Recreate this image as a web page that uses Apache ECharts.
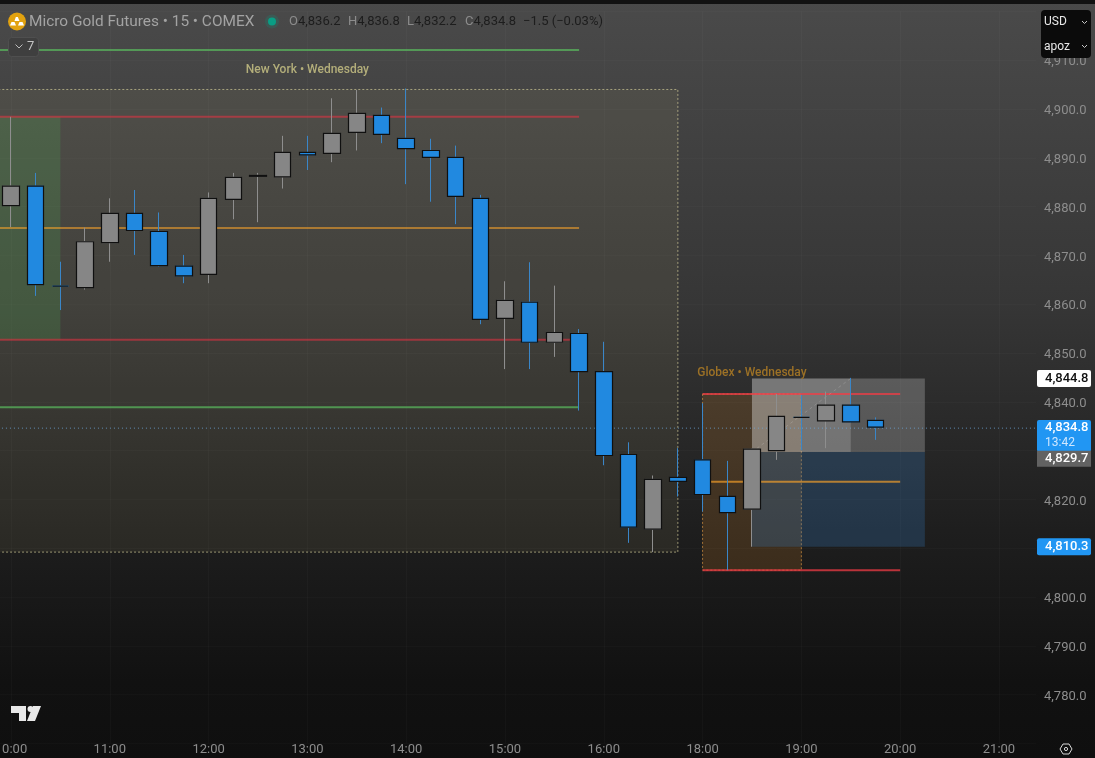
<!DOCTYPE html>
<html>
<head>
<meta charset="utf-8">
<title>Micro Gold Futures</title>
<script src="https://cdn.jsdelivr.net/npm/echarts@6/dist/echarts.min.js"></script>
<style>
  html, body { margin: 0; padding: 0; background: #111; }
  #chart { width: 1095px; height: 758px; }
</style>
</head>
<body>
<div id="chart"></div>
<script>
// bar times, 09:45 is only there so the session boxes run off the left edge
const times = ['09:45','10:00','10:15','10:30','10:45','11:00','11:15','11:30','11:45','12:00','12:15','12:30','12:45',
  '13:00','13:15','13:30','13:45','14:00','14:15','14:30','14:45','15:00','15:15','15:30','15:45',
  '16:00','16:15','16:30','16:45','18:00','18:15','18:30','18:45','19:00','19:15','19:30','19:45',
  '20:00','20:15','20:30','20:45','21:00','21:15'];

const opens  = [null,4880.2,4884.2,4863.7,4863.4,4872.6,4878.6,4874.9,4867.8,4866.1,4881.5,4886.2,4886.1,4891.1,4890.9,4895.2,4898.7,4894.0,4891.5,4890.1,4881.7,4857.1,4860.4,4852.2,4854.0,4846.2,4829.2,4813.9,4824.5,4828.1,4820.6,4818.0,4830.0,4836.8,4836.1,4839.3,4836.2];
const closes = [null,4884.2,4864.0,4863.7,4872.8,4878.6,4875.1,4867.9,4865.8,4881.7,4886.0,4886.4,4891.1,4890.6,4895.0,4899.1,4894.8,4891.9,4890.1,4882.1,4856.9,4860.8,4852.2,4854.2,4846.2,4829.0,4814.3,4824.1,4823.7,4821.0,4817.3,4830.3,4837.0,4836.8,4839.3,4835.9,4834.8];
const lows   = [null,4875.8,4861.7,4858.8,4863.0,4868.7,4870.1,4867.7,4864.3,4864.3,4877.4,4876.8,4883.7,4887.5,4889.1,4891.5,4893.0,4884.6,4881.0,4876.4,4855.9,4846.7,4846.7,4849.2,4838.2,4827.0,4811.1,4809.2,4820.6,4817.5,4805.5,4810.3,4828.1,4830.1,4830.5,4835.7,4832.2];
const highs  = [null,4898.4,4886.9,4868.7,4875.7,4881.7,4883.4,4878.8,4870.1,4882.9,4886.9,4886.9,4894.5,4894.5,4902.2,4903.9,4900.3,4904.2,4893.9,4892.5,4882.4,4864.7,4868.6,4863.8,4854.9,4852.3,4831.7,4824.9,4830.5,4839.7,4827.9,4830.4,4841.6,4841.4,4842.1,4844.9,4836.8];

const priceTicks = [4780,4790,4800,4810,4820,4830,4840,4850,4860,4870,4880,4890,4900,4910];

// session boxes: from, to, top, bottom
const nyBox = ['09:45','16:45',4904,4809.2];
const nyOpenBox = ['09:45','10:30',4898.4,4852.7];
const globexBox = ['18:00','19:00',4841.6,4805.5];
// position tool
const targetBox = ['18:30','20:15',4844.8,4829.7];
const targetFilled = ['18:30','19:30',4844.8,4829.7];
const stopBox = ['18:30','20:15',4829.7,4810.3];
const positionPath = ['18:30','19:30',4829.7,4844.8];

// levels: from, to, price
const nyGreen = [['09:45','15:45',4912.1],['09:45','15:45',4838.9]];
const nyRed = [['09:45','15:45',4898.4],['09:45','15:45',4852.7]];
const nyOrange = [['09:45','15:45',4875.6]];
const globexRed = [['18:00','20:00',4841.6],['18:00','20:00',4805.5]];
const globexOrange = [['18:00','20:00',4823.6]];
const lastPrice = 4834.6;

const priceTags = [4844.8,4834.8,4829.7,4810.3];
const tagLabels = ['4,844.8','4,834.8','4,829.7','4,810.3'];
const countdown = '13:42';

const sessionLabels = [['New York • Wednesday','13:00',4908.0],['Globex • Wednesday','18:30',4845.8]];
const legendValues = [['O','4,836.2'],['H','4,836.8'],['L','4,832.2'],['C','4,834.8']];

const FONT = 'Roboto, sans-serif';
const GRAY = '#868686';
const BLUE = '#2189e0';

var chart = echarts.init(document.getElementById('chart'));

function boxSeries(row, fill, border, z) {
  return {
    type: 'custom', z: z, clip: true, silent: true,
    data: [row], encode: {x: [0, 1], y: [2, 3]},
    renderItem: function (params, api) {
      var a = api.coord([row[0], row[2]]);
      var b = api.coord([row[1], row[3]]);
      var style = {fill: fill};
      if (border) {
        style.stroke = border;
        style.lineWidth = 1;
        style.lineDash = [2, 2];
      }
      return {type: 'rect', shape: {x: a[0], y: a[1], width: b[0] - a[0], height: b[1] - a[1]}, style: style};
    }
  };
}

function levelSeries(rows, color, z) {
  return {
    type: 'custom', z: z, clip: true, silent: true,
    data: rows, encode: {x: [0, 1], y: 2},
    renderItem: function (params, api) {
      var r = rows[params.dataIndex];
      var a = api.coord([r[0], r[2]]);
      var b = api.coord([r[1], r[2]]);
      return {type: 'line', shape: {x1: a[0], y1: a[1], x2: b[0], y2: b[1]}, style: {stroke: color, lineWidth: 2}};
    }
  };
}

var series = [
  boxSeries(nyBox, 'rgba(190,180,125,0.09)', 'rgba(205,200,150,0.7)', 1),
  boxSeries(nyOpenBox, 'rgba(76,175,80,0.22)', null, 1),
  boxSeries(globexBox, 'rgba(255,152,40,0.15)', 'rgba(255,170,70,0.55)', 1),
  boxSeries(targetBox, 'rgba(215,215,215,0.27)', null, 1),
  boxSeries(targetFilled, 'rgba(235,235,235,0.2)', null, 1),
  boxSeries(stopBox, 'rgba(50,120,185,0.27)', null, 1),
  levelSeries(nyGreen, 'rgba(88,180,92,0.75)', 2),
  levelSeries(nyRed, 'rgba(235,50,65,0.55)', 2),
  levelSeries(nyOrange, 'rgba(255,165,40,0.55)', 2),
  levelSeries(globexRed, 'rgba(242,60,70,0.75)', 2),
  levelSeries(globexOrange, 'rgba(255,165,40,0.65)', 2),
  {
    // dashed path of the position tool
    type: 'custom', z: 2, clip: true, silent: true,
    data: [positionPath], encode: {x: [0, 1], y: [2, 3]},
    renderItem: function (params, api) {
      var a = api.coord([positionPath[0], positionPath[2]]);
      var b = api.coord([positionPath[1], positionPath[3]]);
      return {type: 'line', shape: {x1: a[0], y1: a[1], x2: b[0], y2: b[1]},
        style: {stroke: 'rgba(255,255,255,0.16)', lineWidth: 1, lineDash: [3, 3]}};
    }
  },
  {
    // last price line, full width of the pane
    type: 'custom', z: 2, clip: true, silent: true,
    data: [[times[0], lastPrice]], encode: {x: 0, y: 1},
    renderItem: function (params, api) {
      var y = api.coord([times[0], lastPrice])[1];
      return {type: 'line', shape: {x1: params.coordSys.x, y1: y, x2: params.coordSys.x + params.coordSys.width, y2: y},
        style: {stroke: 'rgba(110,165,215,0.8)', lineWidth: 1, lineDash: [1, 3]}};
    }
  },
  {
    // wicks, the bodies of this one get covered by the next series
    type: 'candlestick', z: 3, barWidth: 17, silent: true,
    itemStyle: {color: GRAY, color0: BLUE, borderColor: '#8e8e8e', borderColor0: '#3a86c8', borderWidth: 1},
    data: times.map(function (t, i) { return [opens[i], closes[i], lows[i], highs[i]]; })
  },
  {
    // bodies with the dark outline
    type: 'candlestick', z: 4, barWidth: 17, silent: true,
    itemStyle: {color: GRAY, color0: BLUE, borderColor: '#101010', borderColor0: '#101010', borderColorDoji: '#101010', borderWidth: 1.2},
    data: times.map(function (t, i) {
      if (opens[i] === null || opens[i] === undefined) return [null, null, null, null];
      return [opens[i], closes[i], Math.min(opens[i], closes[i]), Math.max(opens[i], closes[i])];
    })
  },
  {
    type: 'custom', z: 5, clip: false, silent: true,
    data: sessionLabels.map(function (l) { return [l[1], l[2]]; }), encode: {x: 0, y: 1},
    renderItem: function (params, api) {
      var l = sessionLabels[params.dataIndex];
      var p = api.coord([l[1], l[2]]);
      return {type: 'text', x: p[0], y: p[1], style: {
        text: l[0], align: 'center', verticalAlign: 'middle', font: '500 12px ' + FONT,
        fill: params.dataIndex === 0 ? '#b3ae7a' : '#9c7126'
      }};
    }
  },
  {
    // price tags on the scale
    type: 'custom', z: 10, clip: false, silent: true,
    data: priceTags.map(function (p) { return [times[0], p]; }), encode: {x: 0, y: 1},
    renderItem: function (params, api) {
      var i = params.dataIndex;
      var y = api.coord([times[0], priceTags[i]])[1];
      var left = params.coordSys.x + params.coordSys.width + 1;
      var top = y - 8.5, h = 17;
      var bg = [ '#ffffff', '#2196f3', '#626262', '#2196f3' ][i];
      var fg = i === 0 ? '#111111' : '#ffffff';
      if (i === 1) { top = y - 7.2; h = 32; }
      if (i === 2) { top = y - 1.2; h = 16; }
      var kids = [
        {type: 'rect', shape: {x: left, y: top, width: 54, height: h, r: i === 2 ? 0 : 2}, style: {fill: bg}},
        {type: 'text', x: left + 8, y: i === 1 ? top + 8 : top + h / 2, style: {
          text: tagLabels[i], font: '500 13px ' + FONT, fill: fg, verticalAlign: 'middle'
        }}
      ];
      if (i === 1) {
        kids.push({type: 'text', x: left + 8, y: top + 23, style: {
          text: countdown, font: '12px ' + FONT, fill: '#cfe7ff', verticalAlign: 'middle'
        }});
      }
      return {type: 'group', children: kids};
    }
  }
];

// header, badges and the small marks that do not belong to the data
var graphics = [
  {type: 'rect', shape: {x: 0, y: 0, width: 1095, height: 4}, style: {fill: '#121212'}, z: 50},
  {type: 'circle', shape: {cx: 17, cy: 21.5, r: 9}, style: {fill: '#e2a20f'}, z: 50},
  {type: 'polygon', shape: {points: [[14.5,21],[19.5,21],[17.8,17],[15.8,17]]}, style: {fill: '#fff'}, z: 51},
  {type: 'polygon', shape: {points: [[10,25.5],[16,25.5],[14.5,22],[11.5,22]]}, style: {fill: '#fff'}, z: 51},
  {type: 'polygon', shape: {points: [[18,25.5],[24,25.5],[22.5,22],[19.5,22]]}, style: {fill: '#fff'}, z: 51},
  {type: 'text', x: 29, y: 22, z: 50, style: {text: 'Micro Gold Futures • 15 • COMEX', font: '15.4px ' + FONT, fill: '#a3a3a3', verticalAlign: 'middle'}},
  {type: 'circle', shape: {cx: 272, cy: 21.5, r: 7}, style: {fill: 'rgba(8,153,129,0.2)'}, z: 50},
  {type: 'circle', shape: {cx: 272, cy: 21.5, r: 4}, style: {fill: '#0a9d84'}, z: 50},
  {type: 'text', x: 523, y: 22, z: 50, style: {text: '−1.5 (−0.03%)', font: '13px ' + FONT, fill: '#1d1d1d', verticalAlign: 'middle'}},
  {type: 'rect', shape: {x: 8.5, y: 37.5, width: 30, height: 19, r: 3}, style: {fill: '#3f3f3f', stroke: '#4f4f4f', lineWidth: 1}, z: 50},
  {type: 'polyline', shape: {points: [[15.5,44.5],[19,48],[22.5,44.5]]}, style: {stroke: '#bdbdbd', lineWidth: 1, fill: 'none'}, z: 51},
  {type: 'text', x: 27, y: 47, z: 51, style: {text: '7', font: '13px ' + FONT, fill: '#c4c4c4', verticalAlign: 'middle'}},
  {type: 'rect', shape: {x: 1041, y: 10, width: 50, height: 48, r: 4}, style: {fill: '#0b0b0b'}, z: 50},
  {type: 'text', x: 1044, y: 22, z: 51, style: {text: 'USD', font: '12px ' + FONT, fill: '#e8e8e8', verticalAlign: 'middle'}},
  {type: 'text', x: 1044, y: 46.5, z: 51, style: {text: 'apoz', font: '12px ' + FONT, fill: '#e8e8e8', verticalAlign: 'middle'}},
  {type: 'polyline', shape: {points: [[1082,21],[1084.5,23.5],[1087,21]]}, style: {stroke: '#c8c8c8', lineWidth: 1, fill: 'none'}, z: 51},
  {type: 'polyline', shape: {points: [[1082,45],[1084.5,47.5],[1087,45]]}, style: {stroke: '#c8c8c8', lineWidth: 1, fill: 'none'}, z: 51},
  // tv logo
  {type: 'polygon', shape: {points: [[11,706],[26,706],[26,721],[19,721],[19,713],[11,713]]}, style: {fill: '#e8e8e8'}, z: 50},
  {type: 'circle', shape: {cx: 30.5, cy: 709, r: 3}, style: {fill: '#e8e8e8'}, z: 50},
  {type: 'polygon', shape: {points: [[33,706],[41,706],[35,721],[27,721]]}, style: {fill: '#e8e8e8'}, z: 50},
  // settings hexagon
  {type: 'polygon', shape: {points: [[1060,749],[1063,744],[1069,744],[1072,749],[1069,754],[1063,754]]}, style: {stroke: '#d8d8d8', lineWidth: 1, fill: 'none'}, z: 50},
  {type: 'circle', shape: {cx: 1066, cy: 749, r: 1.6}, style: {stroke: '#d8d8d8', lineWidth: 1, fill: 'none'}, z: 50}
];
legendValues.forEach(function (v, i) {
  graphics.push({type: 'text', x: [289, 348, 407, 465][i], y: 22, z: 50, style: {
    text: '{k|' + v[0] + '}{v|' + v[1] + '}', verticalAlign: 'middle',
    rich: {
      k: {font: '13px ' + FONT, fill: '#8c8c8c', color: '#8c8c8c'},
      v: {font: '13px ' + FONT, fill: '#1d1d1d', color: '#1d1d1d'}
    }
  }});
});

chart.setOption({
  animation: false,
  backgroundColor: new echarts.graphic.LinearGradient(0, 0, 0, 1, [
    {offset: 0, color: '#4a4a4a'},
    {offset: 0.4, color: '#363636'},
    {offset: 0.7, color: '#1e1e1e'},
    {offset: 0.9, color: '#111111'},
    {offset: 1, color: '#0f0f0f'}
  ]),
  grid: {left: -26.05, right: 59, top: 11.4, bottom: 14.6, outerBoundsMode: 'none'},
  xAxis: {
    type: 'category',
    data: times,
    axisLine: {show: false},
    axisTick: {show: false},
    axisLabel: {
      color: '#8d8d8d', fontFamily: FONT, fontSize: 13, margin: 0,
      interval: function (i) { return i % 4 === 1; }
    },
    splitLine: {
      show: true, alignWithLabel: true,
      interval: function (i) { return i % 4 === 1; },
      lineStyle: {color: 'rgba(255,255,255,0.025)'}
    }
  },
  yAxis: {
    type: 'value',
    position: 'right',
    min: 4770,
    max: 4920,
    interval: 10,
    axisLine: {show: false},
    axisTick: {show: false},
    axisLabel: {
      margin: 8,
      showMinLabel: false, showMaxLabel: false,
      rich: {p: {color: '#8d8d8d', fontFamily: FONT, fontSize: 13, padding: [4, 0, 0, 0]}},
      formatter: function (v) {
        if (priceTicks.indexOf(v) < 0) return '';
        return '{p|4,' + String(v - 4000) + '.0}';
      }
    },
    splitLine: {show: true, lineStyle: {color: 'rgba(255,255,255,0.02)'}}
  },
  graphic: graphics,
  series: series
});
</script>
</body>
</html>
